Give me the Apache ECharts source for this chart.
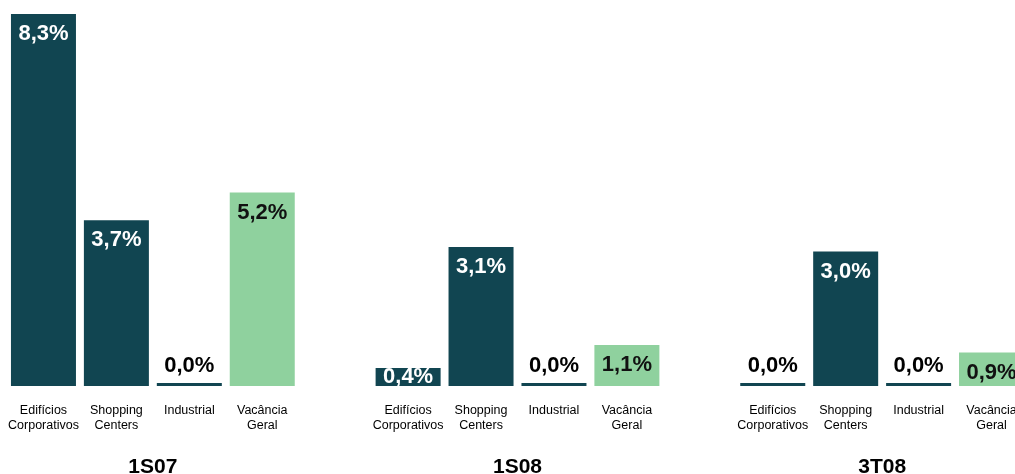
<!DOCTYPE html>
<html>
<head>
<meta charset="utf-8">
<script src="https://cdn.jsdelivr.net/npm/echarts@6/dist/echarts.min.js"></script>
<style>
  html, body { margin: 0; padding: 0; background: #fff; }
  #chart { width: 1015px; height: 474px; }
</style>
</head>
<body>
<div id="chart"></div>
<script>
  // categorias e periodos
  const categorias = ['Edifícios\nCorporativos', 'Shopping\nCenters', 'Industrial', 'Vacância\nGeral'];
  const periodos = ['1S07', '1S08', '3T08'];

  // vacancia por segmento (%)
  const edificios = [8.3, 0.4, 0.0];
  const shopping = [3.7, 3.1, 3.0];
  const industrial = [0.0, 0.0, 0.0];
  const vacanciaGeral = [5.2, 1.1, 0.9];

  const escuro = '#114551';
  const verde = '#8FD19E';

  function fmt(v) {
    return v.toFixed(1).replace('.', ',') + '%';
  }

  // monta o eixo: 4 barras por periodo + 1 espaco vazio entre grupos
  let eixoX = [];
  let serieEscura = [];
  let serieVerde = [];
  periodos.forEach(function (p, i) {
    const segs = [edificios[i], shopping[i], industrial[i]];
    segs.forEach(function (v, j) {
      eixoX.push(categorias[j]);
      let item = { value: v };
      if (v === 0) {
        item.label = { position: 'top', color: '#000', distance: 6 };
      } else if (v < 1) {
        item.label = { position: 'inside' };
      }
      serieEscura.push(item);
      serieVerde.push('-');
    });
    eixoX.push(categorias[3]);
    serieEscura.push('-');
    serieVerde.push(vacanciaGeral[i]);
    if (i < periodos.length - 1) {
      eixoX.push('');
      serieEscura.push('-');
      serieVerde.push('-');
    }
  });

  // rotulos dos periodos centralizados em cada grupo
  let eixoPeriodo = [];
  for (let k = 0; k <= eixoX.length; k++) eixoPeriodo.push('');
  periodos.forEach(function (p, i) { eixoPeriodo[2 + i * 5] = p; });

  let myChart = echarts.init(document.getElementById('chart'));
  myChart.setOption({
    animation: false,
    grid: {
      left: 7,
      width: 1021,
      top: 14,
      bottom: 88,
      outerBoundsMode: 'none'
    },
    xAxis: [
      {
        type: 'category',
        data: eixoX,
        axisLine: { show: false },
        axisTick: { show: false },
        axisLabel: {
          interval: 0,
          margin: 17,
          fontFamily: 'Liberation Sans',
          fontSize: 12.5,
          lineHeight: 15,
          color: '#000'
        }
      },
      {
        type: 'category',
        position: 'bottom',
        boundaryGap: false,
        data: eixoPeriodo,
        axisLine: { show: false },
        axisTick: { show: false },
        axisLabel: {
          interval: 0,
          margin: 71,
          fontFamily: 'Liberation Sans',
          fontSize: 21,
          fontWeight: 'bold',
          color: '#000'
        }
      }
    ],
    yAxis: [
      { type: 'value', min: 0, max: 8.3, show: false },
      { type: 'value', min: 0, max: 10, show: false }
    ],
    series: [
      {
        name: 'Segmentos',
        type: 'bar',
        xAxisIndex: 0,
        yAxisIndex: 0,
        barWidth: 65,
        barGap: '-100%',
        barMinHeight: 3,
        itemStyle: { color: escuro },
        label: {
          show: true,
          position: 'insideTop',
          distance: 9,
          color: '#fff',
          fontFamily: 'Liberation Sans',
          fontSize: 22,
          fontWeight: 'bold',
          formatter: function (p) { return fmt(p.value); }
        },
        data: serieEscura
      },
      {
        name: 'Vacância Geral',
        type: 'bar',
        xAxisIndex: 0,
        yAxisIndex: 1,
        barWidth: 65,
        barGap: '-100%',
        itemStyle: { color: verde },
        label: {
          show: true,
          position: 'insideTop',
          distance: 9,
          color: '#111',
          fontFamily: 'Liberation Sans',
          fontSize: 22,
          fontWeight: 'bold',
          formatter: function (p) { return fmt(p.value); }
        },
        data: serieVerde
      }
    ]
  });
</script>
</body>
</html>
